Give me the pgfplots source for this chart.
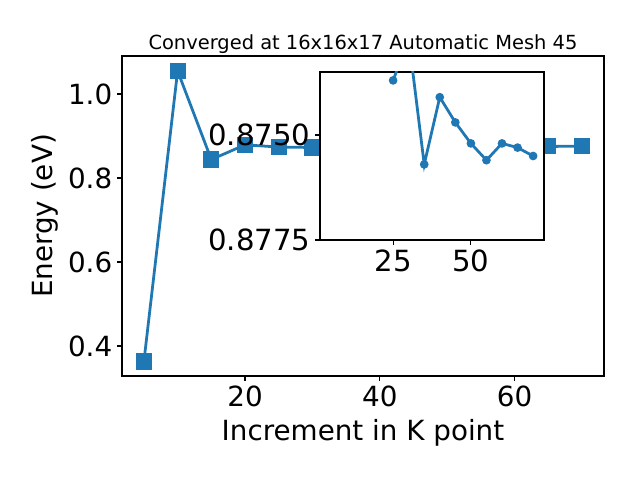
\documentclass[border=0pt]{standalone}
\usepackage{fontspec}
\setmainfont{DejaVu Sans}
\usepackage{pgfplots}
\pgfplotsset{compat=1.18}
\definecolor{c0}{HTML}{1F77B4}
\begin{document}
\begin{tikzpicture}
\path[use as bounding box] (0,0) rectangle (460.8pt,345.6pt);
\begin{axis}[at={(87.84pt,74.88pt)}, anchor=south west, scale only axis,
  width=347pt, height=230.4pt,
  xmin=1.75, xmax=73.25, ymin=0.3286, ymax=1.0905,
  xtick={20,40,60}, ytick={0.4,0.6,0.8,1.0},
  yticklabel style={/pgf/number format/.cd,fixed,fixed zerofill,precision=1},
  /pgf/number format/assume math mode=true,
  tick align=outside, tick pos=left, major tick length=3.5pt,
  every tick/.style={black, line width=0.8pt},
  axis line style={line width=0.8pt},
  ticklabel style={font=\fontsize{20}{24}\selectfont},
  xlabel={Increment in K point}, ylabel={Energy (eV)},
  label style={font=\fontsize{20}{24}\selectfont},
  xlabel style={at={(axis description cs:0.5,-0.178)}, anchor=center},
  ylabel style={at={(axis description cs:-0.161,0.5)}, anchor=center},
  title={Converged at 16x16x17 Automatic Mesh 45},
  title style={at={(axis description cs:0.5,1)}, anchor=base, yshift=-1pt, font=\fontsize{14}{17}\selectfont},
]
\addplot[c0, line width=2pt, mark=square*, mark size=5.3pt, mark options={solid, line width=1pt}] coordinates {
(5,0.363) (10,1.055) (15,0.844) (20,0.879) (25,0.8737) (30,0.8727) (35,0.8757)
(40,0.8741) (45,0.8747) (50,0.8752) (55,0.8756) (60,0.8752) (65,0.8753) (70,0.8755)};
\end{axis}
\begin{axis}[at={(230.4pt,172.8pt)}, anchor=south west, scale only axis,
  width=161.28pt, height=120.96pt,
  axis background/.style={fill=white},
  xmin=1.5, xmax=73.5, ymin=0.8735, ymax=0.8775, y dir=reverse,
  xtick={25,50}, ytick={0.875,0.8775},
  yticklabel style={/pgf/number format/.cd,fixed,fixed zerofill,precision=4},
  xticklabel style={/pgf/number format/.cd,fixed,precision=0},
  /pgf/number format/assume math mode=true,
  tick align=outside, tick pos=left, major tick length=3.5pt,
  every tick/.style={black, line width=0.8pt},
  axis line style={line width=0.8pt},
  ticklabel style={font=\fontsize{21}{25}\selectfont},
]
\addplot[c0, line width=2pt, mark=*, mark size=2.6pt, mark options={solid, line width=1pt}] coordinates {
(25,0.8737) (30,0.8727) (35,0.8757) (40,0.8741) (45,0.8747) (50,0.8752)
(55,0.8756) (60,0.8752) (65,0.8753) (70,0.8755)};
\end{axis}
\end{tikzpicture}
\end{document}
